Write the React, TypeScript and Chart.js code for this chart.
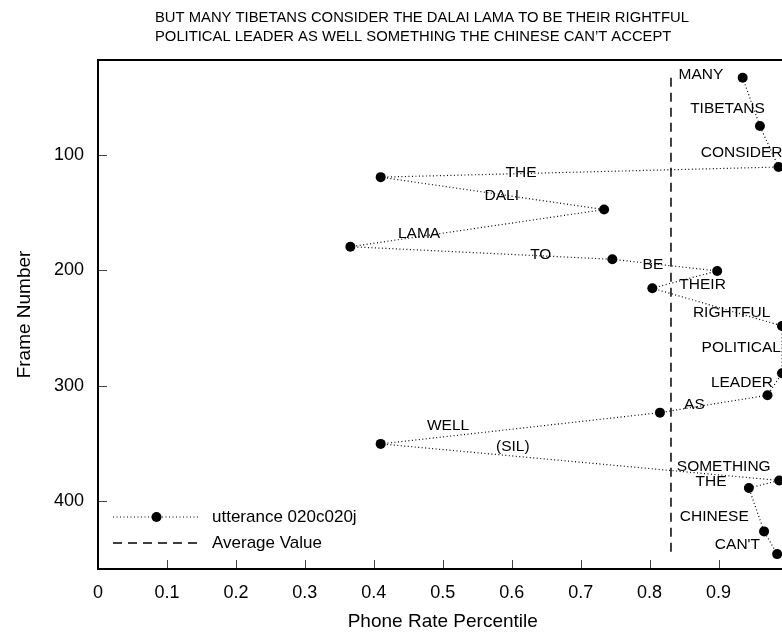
import React, { useEffect, useRef } from "react";
import { Chart, registerables } from "chart.js";

Chart.register(...registerables);

const titleLines = [
  "BUT MANY TIBETANS CONSIDER THE DALAI LAMA TO BE THEIR RIGHTFUL",
  "POLITICAL LEADER AS WELL SOMETHING THE CHINESE CAN\u2019T ACCEPT",
];

const words = [
  "MANY", "TIBETANS", "CONSIDER", "THE", "DALI", "LAMA", "TO", "BE", "THEIR",
  "RIGHTFUL", "POLITICAL", "LEADER", "AS", "WELL", "SOMETHING", "THE", "CHINESE", "CAN'T",
];
const rates = [
  0.935, 0.96, 0.987, 0.41, 0.734, 0.366, 0.746, 0.898, 0.804,
  0.992, 0.992, 0.971, 0.815, 0.41, 0.988, 0.944, 0.966, 0.985,
];
const frames = [
  33, 74.9, 110.4, 119.2, 147.3, 179.5, 190.4, 200.5, 215.5,
  248.2, 289.2, 308.3, 323.4, 350.5, 382.2, 388.8, 426.4, 446.1,
];

const labelTexts = [
  "MANY", "TIBETANS", "CONSIDER", "THE", "DALI", "LAMA", "TO", "BE", "THEIR",
  "RIGHTFUL", "POLITICAL", "LEADER", "AS", "WELL", "(SIL)", "SOMETHING", "THE", "CHINESE", "CAN'T",
];
const labelX = [
  0.8745, 0.9129, 0.9335, 0.6136, 0.5856, 0.4656, 0.6422, 0.8048, 0.8769,
  0.919, 0.9329, 0.9339, 0.865, 0.5077, 0.6016, 0.9075, 0.889, 0.8938, 0.9274,
];
const labelY = [
  30.5, 60.1, 98.0, 115.3, 135.6, 167.9, 186.7, 194.8, 212.7,
  236.4, 267.1, 297.4, 316.2, 335.0, 353.2, 370.2, 383.2, 413.5, 438.0,
];

const avgRate = 0.831;
const xTicks = [0, 0.1, 0.2, 0.3, 0.4, 0.5, 0.6, 0.7, 0.8, 0.9, 1.0];
const yTicks = [100, 200, 300, 400];
const legendLabels = ["utterance 020c020j", "Average Value"];

const FONT = "'Liberation Sans', Arial, Helvetica, sans-serif";

const decorPlugin = {
  id: "decor",
  afterDraw(chart: any) {
    const ctx = chart.ctx as CanvasRenderingContext2D;
    const { left, right, top, bottom } = chart.chartArea;
    const xs = chart.scales.x;
    const ys = chart.scales.y;
    ctx.save();
    // inner ticks
    ctx.strokeStyle = "#444";
    ctx.lineWidth = 1;
    ctx.beginPath();
    xs.ticks.forEach((t: any) => {
      const px = Math.round(xs.getPixelForValue(t.value)) + 0.5;
      ctx.moveTo(px, bottom);
      ctx.lineTo(px, bottom - 9);
    });
    ys.ticks.forEach((t: any) => {
      const py = Math.round(ys.getPixelForValue(t.value)) + 0.5;
      ctx.moveTo(left, py);
      ctx.lineTo(left + 9, py);
    });
    ctx.stroke();
    // frame
    ctx.strokeStyle = "#000";
    ctx.lineWidth = 2;
    ctx.strokeRect(left, top, right - left, bottom - top);

    // word labels
    ctx.fillStyle = "#000";
    ctx.font = `15.5px ${FONT}`;
    ctx.textAlign = "center";
    ctx.textBaseline = "middle";
    labelTexts.forEach((txt, i) => {
      ctx.fillText(txt, xs.getPixelForValue(labelX[i]), ys.getPixelForValue(labelY[i]));
    });

    // title
    ctx.font = `14.8px ${FONT}`;
    ctx.textAlign = "left";
    titleLines.forEach((line, i) => {
      ctx.fillText(line, 155, 18 + i * 19);
    });

    // legend
    const lx0 = left + 15;
    const lx1 = left + 102;
    const ly1 = bottom - 52;
    const ly2 = bottom - 26;
    ctx.lineWidth = 1.2;
    ctx.setLineDash([1, 2.5]);
    ctx.beginPath();
    ctx.moveTo(lx0, ly1);
    ctx.lineTo(lx1, ly1);
    ctx.stroke();
    ctx.setLineDash([]);
    ctx.beginPath();
    ctx.arc((lx0 + lx1) / 2, ly1, 5, 0, Math.PI * 2);
    ctx.fill();
    ctx.lineWidth = 1.5;
    ctx.setLineDash([9, 6]);
    ctx.beginPath();
    ctx.moveTo(lx0, ly2);
    ctx.lineTo(lx1, ly2);
    ctx.stroke();
    ctx.setLineDash([]);
    ctx.font = `17px ${FONT}`;
    ctx.textAlign = "left";
    ctx.fillText(legendLabels[0], left + 114, ly1);
    ctx.fillText(legendLabels[1], left + 114, ly2);
    ctx.restore();
  },
};

export default function App() {
  const ref = useRef<HTMLCanvasElement>(null);
  useEffect(() => {
    if (!ref.current) return;
    const chart = new Chart(ref.current, {
      type: "scatter",
      data: {
        datasets: [
          {
            label: legendLabels[0],
            data: rates.map((r, i) => ({ x: r, y: frames[i] })),
            showLine: true,
            borderColor: "#000",
            borderWidth: 1.2,
            borderDash: [1, 2.5],
            pointRadius: 5,
            pointBackgroundColor: "#000",
            pointBorderColor: "#000",
            pointBorderWidth: 0,
          },
          {
            label: legendLabels[1],
            data: [
              { x: avgRate, y: frames[0] },
              { x: avgRate, y: frames[frames.length - 1] },
            ],
            showLine: true,
            borderColor: "#000",
            borderWidth: 1.5,
            borderDash: [9, 6],
            pointRadius: 0,
          },
        ],
      },
      options: {
        responsive: false,
        animation: false,
        devicePixelRatio: 1,
        layout: { padding: { top: 60, right: 56.5, left: 0, bottom: 0 } },
        plugins: {
          legend: { display: false },
          title: { display: false },
          tooltip: { enabled: false },
        },
        scales: {
          x: {
            type: "linear",
            min: 0,
            max: 1,
            afterFit: (s: any) => {
              s.height = 66;
            },
            afterBuildTicks: (s: any) => {
              s.ticks = xTicks.map((v) => ({ value: v }));
            },
            grid: { display: false, drawTicks: false },
            border: { display: false },
            ticks: {
              color: "#000",
              font: { family: FONT, size: 18 },
              padding: 13,
              maxRotation: 0,
              autoSkip: false,
              callback: (v: any) => String(Math.round(Number(v) * 10) / 10),
            },
            title: {
              display: true,
              text: "Phone Rate Percentile",
              color: "#000",
              font: { family: FONT, size: 19 },
              padding: { top: 2, bottom: 2 },
            },
          },
          y: {
            type: "linear",
            reverse: true,
            min: 17.6,
            max: 459,
            afterFit: (s: any) => {
              s.width = 98;
            },
            afterBuildTicks: (s: any) => {
              s.ticks = yTicks.map((v) => ({ value: v }));
            },
            grid: { display: false, drawTicks: false },
            border: { display: false },
            ticks: {
              color: "#000",
              font: { family: FONT, size: 18 },
              padding: 14,
              autoSkip: false,
            },
            title: {
              display: true,
              text: "Frame Number",
              color: "#000",
              font: { family: FONT, size: 19 },
              padding: { top: 13, bottom: 13 },
            },
          },
        },
      },
      plugins: [decorPlugin],
    });
    return () => chart.destroy();
  }, []);

  return (
    <div
      style={{
        position: "fixed",
        left: 0,
        top: 0,
        width: 782,
        height: 635,
        overflow: "hidden",
        background: "#fff",
      }}
    >
      <canvas ref={ref} width={844} height={635} style={{ display: "block" }} />
    </div>
  );
}
